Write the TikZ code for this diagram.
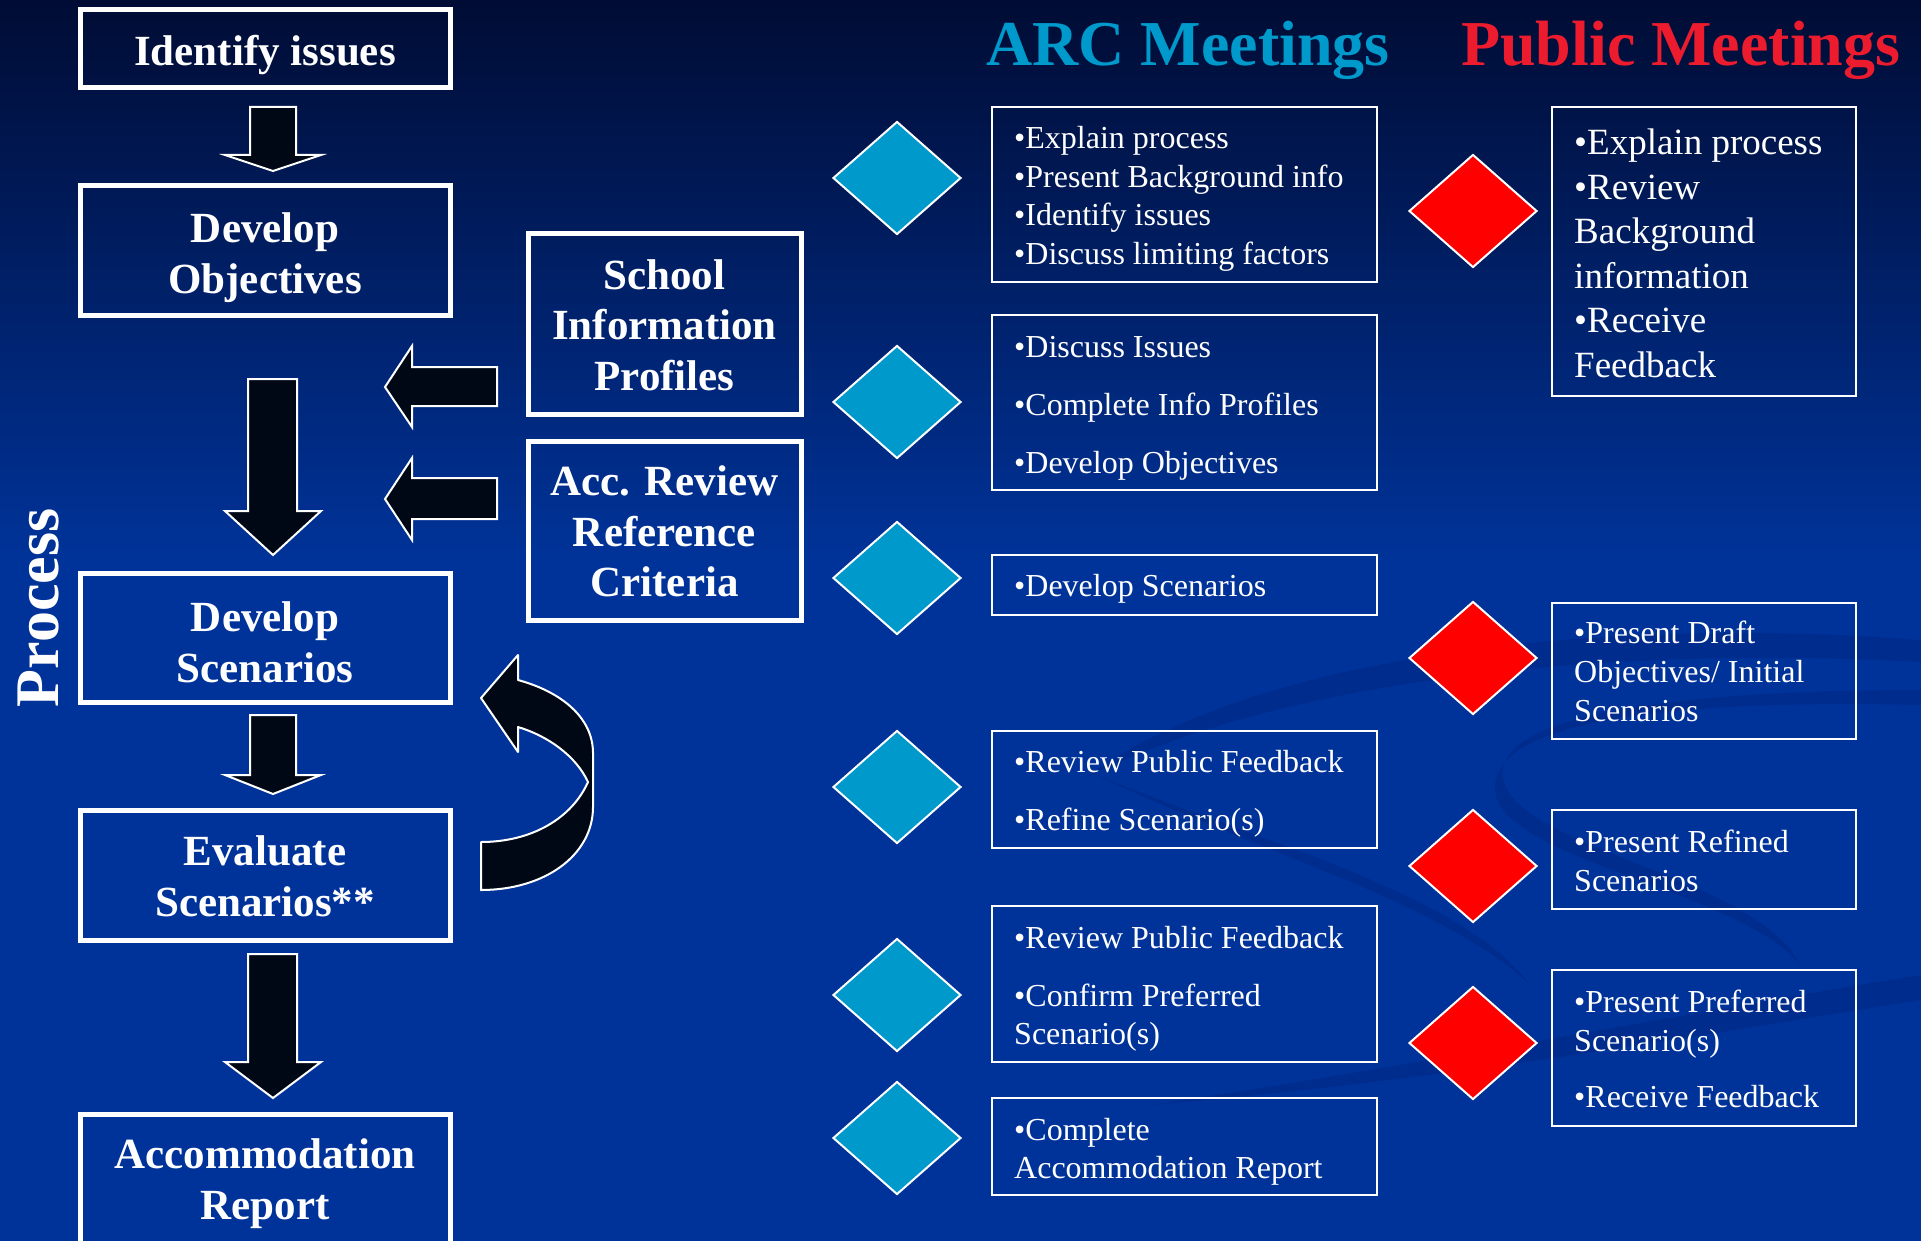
\documentclass[tikz,border=0pt]{standalone}
\usepackage{fontspec}
\setmainfont{Liberation Serif}
\usetikzlibrary{shapes.geometric}
\definecolor{bgtop}{RGB}{0,12,52}
\definecolor{bgblue}{RGB}{0,51,153}
\definecolor{arrowfill}{RGB}{0,8,22}
\definecolor{arccyan}{RGB}{0,153,204}
\definecolor{pubred}{RGB}{236,28,46}
\definecolor{swirlc}{RGB}{0,36,130}
\newcommand\lns[2]{\begin{tabular}[t]{@{}#1@{}}#2\end{tabular}}
\tikzset{
  lbox/.style={draw=white, line width=5pt, inner sep=0pt, minimum width=370pt},
  mbox/.style={draw=white, line width=5pt, inner sep=0pt, minimum width=273pt},
  abox/.style={draw=white, line width=2.5pt, inner sep=0pt, minimum width=385pt},
  pbox/.style={draw=white, line width=2.5pt, inner sep=0pt, minimum width=304pt},
  ltext/.style={font=\bfseries\fontsize{43}{51}\selectfont, text=white, inner sep=0pt, anchor=base},
  atext/.style={font=\fontsize{32}{38.5}\selectfont, text=white, inner sep=0pt, anchor=base west},
  ptext/.style={font=\fontsize{37}{44.5}\selectfont, text=white, inner sep=0pt, anchor=base west},
  arcdia/.style={diamond, fill=arccyan, draw=white, line width=2pt, inner sep=0pt, minimum width=128pt, minimum height=113pt},
  pubdia/.style={diamond, fill=red, draw=white, line width=2pt, inner sep=0pt, minimum width=128pt, minimum height=113pt},
  blockarrow/.style={fill=arrowfill, draw=white, line width=2pt, line join=miter},
  swirl/.style={fill=swirlc, opacity=0.45},
}
\begin{document}
\begin{tikzpicture}[x=1pt,y=-1pt]
\useasboundingbox (0,0) rectangle (1921,1241);
% background
\fill[bgblue] (0,0) rectangle (1921,1241);
\shade[top color=bgtop, bottom color=bgblue] (0,0) rectangle (1921,560);
% faint swirl (crescent bands)
\fill[swirl] (1085,778) .. controls (1250,655) and (1600,615) .. (1921,640)
  -- (1921,662) .. controls (1600,645) and (1280,680) .. (1085,778) -- cycle;
\fill[swirl] (1921,690) .. controls (1650,690) and (1480,720) .. (1505,785)
  .. controls (1530,850) and (1760,880) .. (1800,965)
  .. controls (1740,890) and (1500,860) .. (1495,790)
  .. controls (1490,715) and (1700,700) .. (1921,705) -- cycle;
\fill[swirl] (1090,772) .. controls (1250,840) and (1460,890) .. (1530,985)
  .. controls (1440,900) and (1250,850) .. (1090,772) -- cycle;
\fill[swirl] (1150,1105) .. controls (1450,1060) and (1700,1010) .. (1921,975)
  -- (1921,1000) .. controls (1700,1035) and (1450,1080) .. (1150,1105) -- cycle;

% headers
\node[font=\bfseries\fontsize{64}{70}\selectfont, text=arccyan, anchor=base west, inner sep=0pt] (harc) at (986,66) {ARC Meetings};
\node[font=\bfseries\fontsize{64}{70}\selectfont, text=pubred, anchor=base west, inner sep=0pt] (hpub) at (1461,66) {Public Meetings};
\node[font=\bfseries\fontsize{62}{70}\selectfont, text=white, rotate=90, anchor=base, inner sep=0pt] (proc) at (58,608) {Process};

% left column boxes
\node[lbox, minimum height=78pt] (b1) at (265,49) {};
\node[lbox, minimum height=129pt] (b2) at (265,250.5) {};
\node[lbox, minimum height=129pt] (b3) at (265,637.5) {};
\node[lbox, minimum height=130pt] (b4) at (265,875) {};
\node[lbox, minimum height=136pt] (b5) at (265,1182) {};
\node[ltext] (t1) at (265,66) {Identify issues};
\node[ltext] (t2) at (265,243) {\lns{c}{Develop\\Objectives}};
\node[ltext] (t3) at (265,631) {\lns{c}{Develop\\Scenarios}};
\node[ltext] (t4) at (265,865) {\lns{c}{Evaluate\\Scenarios**}};
\node[ltext] (t5) at (265,1168) {\lns{c}{Accommodation\\Report}};

% middle boxes
\node[mbox, minimum height=180pt] (m1) at (664.5,324) {};
\node[mbox, minimum height=179pt] (m2) at (664.5,530.5) {};
\node[ltext, font=\bfseries\fontsize{43}{50.5}\selectfont] (t6) at (664.5,289.5) {\lns{c}{School\\Information\\Profiles}};
\node[ltext, font=\bfseries\fontsize{43}{50.5}\selectfont] (t7) at (664.5,495.5) {\lns{c}{Acc. Review\\Reference\\Criteria}};

% down block arrows
\draw[blockarrow] (250,107) -- (296,107) -- (296,155) -- (321,155) -- (273,171) -- (225,155) -- (250,155) -- cycle;
\draw[blockarrow] (248,379) -- (297,379) -- (297,511) -- (321,511) -- (273,555) -- (225,511) -- (248,511) -- cycle;
\draw[blockarrow] (250,715) -- (296,715) -- (296,775) -- (321,775) -- (273,794) -- (225,775) -- (250,775) -- cycle;
\draw[blockarrow] (248,954) -- (297,954) -- (297,1062) -- (321,1062) -- (273,1098) -- (225,1062) -- (248,1062) -- cycle;
% left block arrows
\draw[blockarrow] (497,367) -- (497,406) -- (412,406) -- (412,427) -- (385,387) -- (412,346) -- (412,367) -- cycle;
\draw[blockarrow] (497,478) -- (497,519) -- (412,519) -- (412,540) -- (385,499) -- (412,458) -- (412,478) -- cycle;
% curved feedback arrow
\draw[blockarrow, line join=round] (481,890) .. controls (545,890) and (593,855) .. (593,807)
  -- (593,753) .. controls (593,718) and (562,692) .. (518,680)
  -- (518,655) -- (481,698) -- (518,752) -- (518,727)
  .. controls (548,736) and (576,756) .. (588,782)
  .. controls (572,818) and (532,842) .. (481,842) -- cycle;

% ARC diamonds
\node[arcdia] (d1) at (897,178) {};
\node[arcdia] (d2) at (897,402) {};
\node[arcdia] (d3) at (897,578) {};
\node[arcdia] (d4) at (897,787) {};
\node[arcdia] (d5) at (897,995) {};
\node[arcdia] (d6) at (897,1138) {};

% public diamonds
\node[pubdia] (r1) at (1473,211) {};
\node[pubdia] (r2) at (1473,658) {};
\node[pubdia] (r3) at (1473,866) {};
\node[pubdia] (r4) at (1473,1043) {};

% ARC boxes
\node[abox, minimum height=175pt] (A1) at (1184.5,194.5) {};
\node[abox, minimum height=175pt] (A2) at (1184.5,402.5) {};
\node[abox, minimum height=60pt] (A3) at (1184.5,585) {};
\node[abox, minimum height=117pt] (A4) at (1184.5,789.5) {};
\node[abox, minimum height=156pt] (A5) at (1184.5,984) {};
\node[abox, minimum height=97pt] (A6) at (1184.5,1146.5) {};
\node[atext] (a1) at (1014,149) {\lns{l}{•Explain process\\•Present Background info\\•Identify issues\\•Discuss limiting factors}};
\node[atext] (a2) at (1014,357) {\lns{l}{•Discuss Issues\\[19.5pt]•Complete Info Profiles\\[19.5pt]•Develop Objectives}};
\node[atext] (a3) at (1014,596.5) {•Develop Scenarios};
\node[atext] (a4) at (1014,772.5) {\lns{l}{•Review Public Feedback\\[19.5pt]•Refine Scenario(s)}};
\node[atext] (a5) at (1014,948.5) {\lns{l}{•Review Public Feedback\\[19pt]•Confirm Preferred\\Scenario(s)}};
\node[atext] (a6) at (1014,1140) {\lns{l}{•Complete\\Accommodation Report}};

% public boxes
\node[pbox, minimum height=289pt] (P1) at (1704,251.5) {};
\node[pbox, minimum height=136pt] (P2) at (1704,671) {};
\node[pbox, minimum height=99pt] (P3) at (1704,859.5) {};
\node[pbox, minimum height=156pt] (P4) at (1704,1048) {};
\node[ptext] (p1) at (1574,155) {\lns{l}{•Explain process\\•Review\\Background\\information\\•Receive\\Feedback}};
\node[atext, font=\fontsize{32}{39}\selectfont] (p2) at (1574,643.5) {\lns{l}{•Present Draft\\Objectives/ Initial\\Scenarios}};
\node[atext, font=\fontsize{32}{39}\selectfont] (p3) at (1574,852.5) {\lns{l}{•Present Refined\\Scenarios}};
\node[atext] (p4) at (1574,1012.5) {\lns{l}{•Present Preferred\\Scenario(s)\\[17.5pt]•Receive Feedback}};
\end{tikzpicture}
\end{document}
